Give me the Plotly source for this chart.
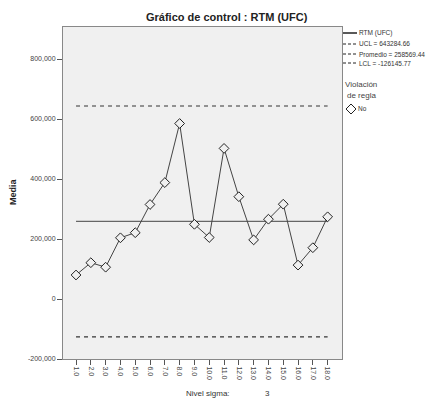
import plotly.graph_objects as go

categories = [1, 2, 3, 4, 5, 6, 7, 8, 9, 10, 11, 12, 13, 14, 15, 16, 17, 18]
tick_labels = [f"{c}.0" for c in categories]
media = [80000, 121000, 106000, 204000, 221000, 315000, 388000, 585000, 249000,
         205000, 502000, 341000, 197000, 266000, 316000, 113000, 171000, 274000]
ucl = 643284.66
promedio = 258569.44
lcl = -126145.77
y_ticks = [-200000, 0, 200000, 400000, 600000, 800000]
y_tick_labels = ["-200,000", "0", "200,000", "400,000", "600,000", "800,000"]

W, H = 437, 400
L, R, T, B = 63, 95, 27, 41
PW, PH = W - L - R, H - T - B

fig = go.Figure()
x_ends = [categories[0], categories[-1]]
fig.add_trace(go.Scatter(x=x_ends, y=[ucl, ucl], mode="lines",
                         line=dict(color="#333333", width=1.2, dash="4px,4px"), showlegend=False))
fig.add_trace(go.Scatter(x=x_ends, y=[lcl, lcl], mode="lines",
                         line=dict(color="#333333", width=1.2, dash="4px,4px"), showlegend=False))
fig.add_trace(go.Scatter(x=x_ends, y=[promedio, promedio], mode="lines",
                         line=dict(color="#666666", width=1.3), showlegend=False))
fig.add_trace(go.Scatter(x=categories, y=media, mode="lines+markers",
                         line=dict(color="#444444", width=1),
                         marker=dict(symbol="diamond", size=7.5, color="#f0f0f0",
                                     line=dict(color="#222222", width=1)),
                         showlegend=False))

def px(x):
    return (x - L) / PW

def py(y):
    return 1 - (y - T) / PH

font_c = "#333333"
FF = "Liberation Sans, Arial"
ann = []
ann.append(dict(text="<b>Gráfico de control : RTM (UFC)</b>", x=px(227), y=py(17),
                xref="paper", yref="paper", showarrow=False, xanchor="center", yanchor="middle",
                font=dict(size=11, color="#222222", family=FF)))
ann.append(dict(text="<b>Media</b>", x=px(13), y=py(192), textangle=-90,
                xref="paper", yref="paper", showarrow=False, xanchor="center", yanchor="middle",
                font=dict(size=9, color="#222222", family=FF)))
ann.append(dict(text="Nivel sigma:", x=px(208), y=py(393),
                xref="paper", yref="paper", showarrow=False, xanchor="center", yanchor="middle",
                font=dict(size=8, color=font_c, family=FF)))
ann.append(dict(text="3", x=px(267), y=py(393),
                xref="paper", yref="paper", showarrow=False, xanchor="center", yanchor="middle",
                font=dict(size=8, color=font_c, family=FF)))

legend_rows = [("RTM (UFC)", 33, "solid"),
               (f"UCL = {ucl:.2f}", 44, "dash"),
               (f"Promedio = {promedio:.2f}", 54, "dash"),
               (f"LCL = {lcl:.2f}", 63, "dash")]
shapes = []
for text, yy, st in legend_rows:
    ann.append(dict(text=text, x=px(357), y=py(yy), xref="paper", yref="paper",
                    showarrow=False, xanchor="left", yanchor="middle",
                    font=dict(size=6.5, color=font_c, family=FF)))
    if st == "solid":
        shapes.append(dict(type="line", xref="paper", yref="paper",
                           x0=px(343), x1=px(357), y0=py(yy), y1=py(yy),
                           line=dict(color="#222222", width=1.5)))
    else:
        shapes.append(dict(type="line", xref="paper", yref="paper",
                           x0=px(343), x1=px(357), y0=py(yy), y1=py(yy),
                           line=dict(color="#222222", width=1, dash="3px,2px")))
ann.append(dict(text="Violación", x=px(343), y=py(85), xref="paper", yref="paper",
                showarrow=False, xanchor="left", yanchor="middle",
                font=dict(size=8, color="#444444", family=FF)))
ann.append(dict(text="de regla", x=px(345), y=py(95), xref="paper", yref="paper",
                showarrow=False, xanchor="left", yanchor="middle",
                font=dict(size=8, color="#444444", family=FF)))
ann.append(dict(text="No", x=px(356), y=py(109), xref="paper", yref="paper",
                showarrow=False, xanchor="left", yanchor="middle",
                font=dict(size=6.5, color=font_c, family=FF)))
shapes.append(dict(type="path", xref="paper", yref="paper",
                   path=f"M {px(346)},{py(109)} L {px(351)},{py(104)} L {px(356)},{py(109)} L {px(351)},{py(114)} Z",
                   line=dict(color="#222222", width=1), fillcolor="white"))

fig.update_layout(
    width=W, height=H,
    margin=dict(l=L, r=R, t=T, b=B),
    paper_bgcolor="white", plot_bgcolor="#f0f0f0",
    annotations=ann, shapes=shapes,
    font=dict(family=FF, size=7, color=font_c),
    showlegend=False,
)
fig.update_xaxes(range=[0.12, 18.97], tickvals=categories, ticktext=tick_labels,
                 tickangle=90, ticks="outside", ticklen=5, tickcolor="#555555",
                 showgrid=False, zeroline=False, showline=True, linecolor="#888888",
                 linewidth=1, mirror=True, tickfont=dict(size=7, color="#444444"))
fig.update_yaxes(range=[-200000, 906667], tickvals=y_ticks, ticktext=y_tick_labels,
                 ticks="outside", ticklen=5, tickcolor="#555555",
                 showgrid=False, zeroline=False, showline=True, linecolor="#888888",
                 linewidth=1, mirror=True, tickfont=dict(size=7, color="#444444"))

fig.write_html("out.html", config={"displayModeBar": False},
               post_script="document.body.style.margin='0';")
